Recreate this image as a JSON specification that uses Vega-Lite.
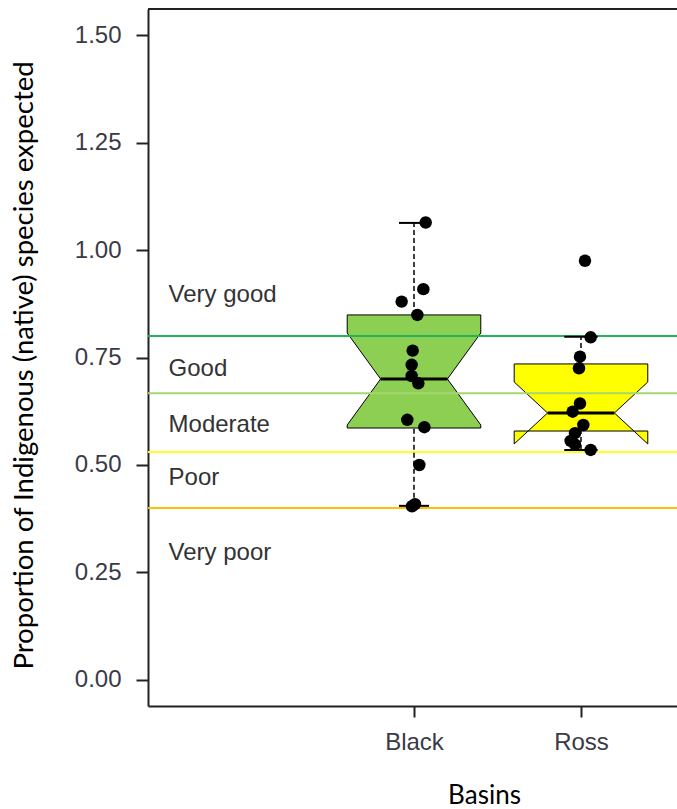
{
  "$schema": "https://vega.github.io/schema/vega-lite/v6.json",
  "width": 529,
  "height": 697,
  "autosize": {"type": "none"},
  "padding": {"left": 148, "top": 9, "right": 0, "bottom": 103},
  "background": "white",
  "config": {"view": {"stroke": null}},
  "datasets": {
    "boxes": [
      {"basin": "Black", "ord": 1, "x": 0.6, "y": 0.586},
      {"basin": "Black", "ord": 2, "x": 0.6, "y": 0.593},
      {"basin": "Black", "ord": 3, "x": 0.8, "y": 0.700},
      {"basin": "Black", "ord": 4, "x": 0.6, "y": 0.807},
      {"basin": "Black", "ord": 5, "x": 0.6, "y": 0.849},
      {"basin": "Black", "ord": 6, "x": 1.4, "y": 0.849},
      {"basin": "Black", "ord": 7, "x": 1.4, "y": 0.807},
      {"basin": "Black", "ord": 8, "x": 1.2, "y": 0.700},
      {"basin": "Black", "ord": 9, "x": 1.4, "y": 0.593},
      {"basin": "Black", "ord": 10, "x": 1.4, "y": 0.586},
      {"basin": "Ross", "ord": 1, "x": 1.6, "y": 0.579},
      {"basin": "Ross", "ord": 2, "x": 1.6, "y": 0.549},
      {"basin": "Ross", "ord": 3, "x": 1.8, "y": 0.621},
      {"basin": "Ross", "ord": 4, "x": 1.6, "y": 0.693},
      {"basin": "Ross", "ord": 5, "x": 1.6, "y": 0.735},
      {"basin": "Ross", "ord": 6, "x": 2.4, "y": 0.735},
      {"basin": "Ross", "ord": 7, "x": 2.4, "y": 0.693},
      {"basin": "Ross", "ord": 8, "x": 2.2, "y": 0.621},
      {"basin": "Ross", "ord": 9, "x": 2.4, "y": 0.549},
      {"basin": "Ross", "ord": 10, "x": 2.4, "y": 0.579}
    ],
    "whiskers": [
      {"basin": "Black", "x": 1, "y": 0.849, "y2": 1.063},
      {"basin": "Black", "x": 1, "y": 0.405, "y2": 0.586},
      {"basin": "Ross", "x": 2, "y": 0.735, "y2": 0.798},
      {"basin": "Ross", "x": 2, "y": 0.535, "y2": 0.579}
    ],
    "caps": [
      {"basin": "Black", "x": 0.91, "x2": 1.09, "y": 1.063},
      {"basin": "Black", "x": 0.91, "x2": 1.09, "y": 0.405},
      {"basin": "Ross", "x": 1.9, "x2": 2.1, "y": 0.798},
      {"basin": "Ross", "x": 1.9, "x2": 2.1, "y": 0.535}
    ],
    "medians": [
      {"basin": "Black", "x": 0.8, "x2": 1.2, "y": 0.700},
      {"basin": "Ross", "x": 1.8, "x2": 2.2, "y": 0.621}
    ],
    "thresholds": [
      {"limit": "Very good / Good", "y": 0.80},
      {"limit": "Good / Moderate", "y": 0.667},
      {"limit": "Moderate / Poor", "y": 0.53},
      {"limit": "Poor / Very poor", "y": 0.40}
    ],
    "classes": [
      {"label": "Very good", "x": -0.47, "y": 0.879},
      {"label": "Good", "x": -0.47, "y": 0.707},
      {"label": "Moderate", "x": -0.47, "y": 0.577},
      {"label": "Poor", "x": -0.47, "y": 0.453},
      {"label": "Very poor", "x": -0.47, "y": 0.279}
    ],
    "points": [
      {"basin": "Black", "x": 1.070, "y": 1.064},
      {"basin": "Black", "x": 1.056, "y": 0.909},
      {"basin": "Black", "x": 0.926, "y": 0.880},
      {"basin": "Black", "x": 1.020, "y": 0.849},
      {"basin": "Black", "x": 0.992, "y": 0.766},
      {"basin": "Black", "x": 0.986, "y": 0.733},
      {"basin": "Black", "x": 0.986, "y": 0.707},
      {"basin": "Black", "x": 1.026, "y": 0.690},
      {"basin": "Black", "x": 0.960, "y": 0.605},
      {"basin": "Black", "x": 1.062, "y": 0.588},
      {"basin": "Black", "x": 1.032, "y": 0.500},
      {"basin": "Black", "x": 1.006, "y": 0.409},
      {"basin": "Black", "x": 0.988, "y": 0.404},
      {"basin": "Ross", "x": 2.024, "y": 0.975},
      {"basin": "Ross", "x": 2.058, "y": 0.797},
      {"basin": "Ross", "x": 1.994, "y": 0.752},
      {"basin": "Ross", "x": 1.988, "y": 0.725},
      {"basin": "Ross", "x": 1.994, "y": 0.643},
      {"basin": "Ross", "x": 1.950, "y": 0.624},
      {"basin": "Ross", "x": 2.014, "y": 0.593},
      {"basin": "Ross", "x": 1.964, "y": 0.574},
      {"basin": "Ross", "x": 1.964, "y": 0.548},
      {"basin": "Ross", "x": 1.938, "y": 0.556},
      {"basin": "Ross", "x": 2.058, "y": 0.535}
    ]
  },
  "layer": [
    {
      "data": {"name": "boxes"},
      "mark": {"type": "line", "interpolate": "linear-closed", "stroke": "black", "strokeWidth": 1, "filled": true},
      "encoding": {
        "x": {"field": "x", "type": "quantitative", "scale": {"domain": [-0.593, 2.575], "nice": false, "zero": false},
          "axis": {"values": [1, 2], "labelExpr": "datum.value == 1 ? 'Black' : 'Ross'", "title": "Basins",
            "grid": false, "domainColor": "#222", "domainWidth": 2, "tickColor": "#222", "tickWidth": 2, "tickSize": 11,
            "labelFont": "Liberation Sans", "labelFontSize": 24, "labelColor": "#3a3a46", "labelPadding": 13, "labelFlush": false,
            "titleFont": "Lato", "titleFontSize": 26, "titleFontWeight": "normal", "titleColor": "black",
            "titleX": 336, "titleY": 97, "titleBaseline": "alphabetic", "titleAnchor": null}},
        "y": {"field": "y", "type": "quantitative", "scale": {"domain": [-0.0605, 1.5605], "nice": false, "zero": false},
          "axis": {"values": [0, 0.25, 0.5, 0.75, 1.0, 1.25, 1.5], "format": ".2f",
            "title": "Proportion of Indigenous (native) species expected",
            "grid": false, "domainColor": "#222", "domainWidth": 2, "tickColor": "#222", "tickWidth": 2, "tickSize": 12,
            "labelFont": "Liberation Sans", "labelFontSize": 24, "labelColor": "#3a3a46", "labelPadding": 15, "labelFlush": false,
            "titleFont": "Lato", "titleFontSize": 27.5, "titleFontWeight": "normal", "titleColor": "black",
            "titleX": -116, "titleY": 356, "titleBaseline": "alphabetic", "titleAnchor": null}},
        "order": {"field": "ord", "type": "quantitative"},
        "detail": {"field": "basin"},
        "fill": {"field": "basin", "type": "nominal", "scale": {"domain": ["Black", "Ross"], "range": ["#8dcf52", "#ffff00"]}, "legend": null}
      }
    },
    {
      "data": {"name": "medians"},
      "mark": {"type": "rule", "color": "black", "strokeWidth": 3},
      "encoding": {"x": {"field": "x", "type": "quantitative"}, "x2": {"field": "x2"}, "y": {"field": "y", "type": "quantitative"}}
    },
    {
      "data": {"name": "thresholds"},
      "mark": {"type": "rule", "strokeWidth": 2},
      "encoding": {
        "y": {"field": "y", "type": "quantitative"},
        "color": {"field": "limit", "type": "nominal", "legend": null,
          "scale": {"domain": ["Very good / Good", "Good / Moderate", "Moderate / Poor", "Poor / Very poor"], "range": ["#22b357", "#a6d670", "#ffff22", "#ffc000"]}}
      }
    },
    {
      "data": {"name": "whiskers"},
      "mark": {"type": "rule", "color": "black", "strokeWidth": 1.5, "strokeDash": [5, 3]},
      "encoding": {"x": {"field": "x", "type": "quantitative"}, "y": {"field": "y", "type": "quantitative"}, "y2": {"field": "y2"}}
    },
    {
      "data": {"name": "caps"},
      "mark": {"type": "rule", "color": "black", "strokeWidth": 2},
      "encoding": {"x": {"field": "x", "type": "quantitative"}, "x2": {"field": "x2"}, "y": {"field": "y", "type": "quantitative"}}
    },
    {
      "data": {"name": "classes"},
      "mark": {"type": "text", "align": "left", "baseline": "alphabetic", "font": "Liberation Sans", "fontSize": 24, "color": "#333"},
      "encoding": {"x": {"field": "x", "type": "quantitative"}, "y": {"field": "y", "type": "quantitative"}, "text": {"field": "label"}}
    },
    {
      "data": {"name": "points"},
      "mark": {"type": "circle", "color": "black", "opacity": 1, "size": 155},
      "encoding": {"x": {"field": "x", "type": "quantitative"}, "y": {"field": "y", "type": "quantitative"}}
    },
    {
      "data": {"values": [{"top": 1.5605}]},
      "mark": {"type": "rule", "color": "#222", "strokeWidth": 2},
      "encoding": {"y": {"field": "top", "type": "quantitative"}}
    }
  ]
}
